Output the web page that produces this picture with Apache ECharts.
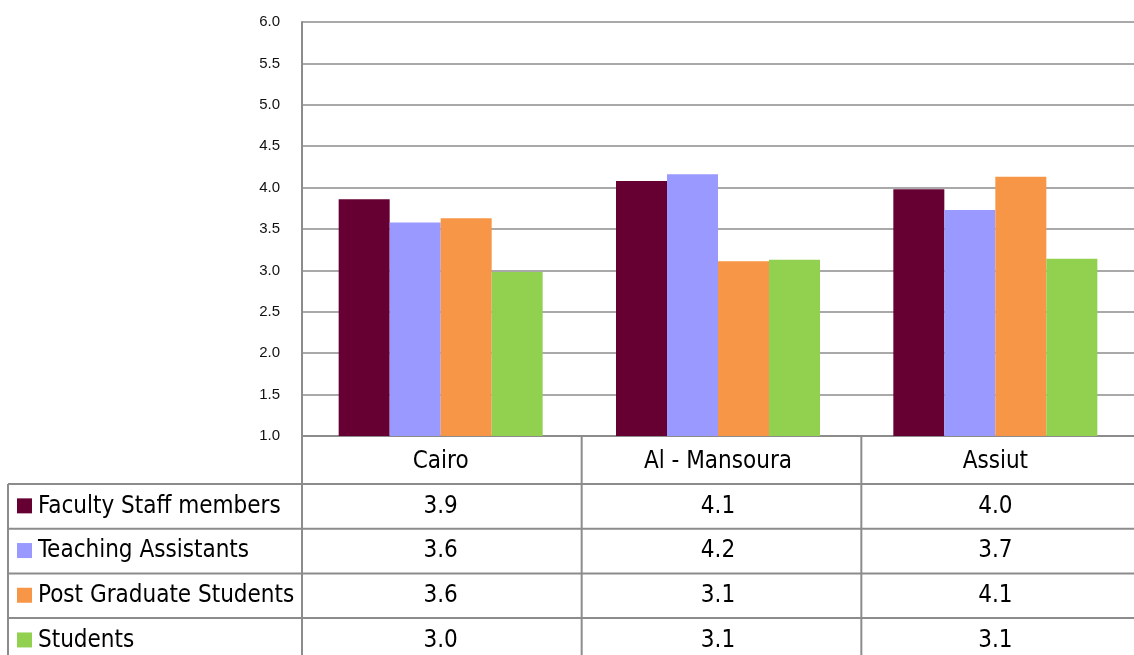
<!DOCTYPE html>
<html>
<head>
<meta charset="utf-8">
<script src="https://cdn.jsdelivr.net/npm/echarts@6/dist/echarts.min.js"></script>
<style>
  html, body { margin: 0; padding: 0; background: #fff; }
  #chart { width: 1134px; height: 655px; }
</style>
</head>
<body>
<div id="chart"></div>
<script>
// data
const cities = ['Cairo', 'Al - Mansoura', 'Assiut']
const groupNames = ['Faculty Staff members', 'Teaching Assistants', 'Post Graduate Students', 'Students']
const facultyStaff = [3.86, 4.08, 3.98]
const teachingAssistants = [3.58, 4.16, 3.73]
const postGraduates = [3.63, 3.11, 4.13]
const students = [2.98, 3.13, 3.14]
const yMin = 1
const yMax = 6
const yStep = 0.5

const groups = [facultyStaff, teachingAssistants, postGraduates, students]
const COLORS = ['#660033', '#9999FF', '#F79646', '#92D050']
const LINE = '#8c8c8c'
const TABLE_FONT = "'Liberation Sans Narrow', 'DejaVu Sans Condensed', sans-serif"
const AXIS_FONT = "'Liberation Sans', sans-serif"

// layout
const W = 1134
const GRID = { left: 302, right: -7, top: 22, bottom: 219 }
const AXIS_Y = 655 - GRID.bottom
const HEADER_H = 48
const ROW_H = 44.7
const TABLE_LEFT = 8

const chart = echarts.init(document.getElementById('chart'))

chart.setOption({
  animation: false,
  grid: GRID,
  xAxis: {
    type: 'category',
    data: cities,
    axisLine: { lineStyle: { color: LINE, width: 2 } },
    axisTick: { show: false },
    axisLabel: { fontFamily: TABLE_FONT, fontSize: 24, color: '#000', margin: 14 },
  },
  yAxis: {
    type: 'value',
    min: yMin,
    max: yMax,
    interval: yStep,
    axisLine: { show: true, lineStyle: { color: LINE, width: 2 } },
    axisTick: { show: false },
    axisLabel: {
      fontFamily: AXIS_FONT, fontSize: 15, color: '#111', margin: 22,
      formatter: v => v.toFixed(1),
    },
    splitLine: { lineStyle: { color: LINE, width: 1.5 } },
  },
  series: groups.map((vals, i) => ({
    name: groupNames[i],
    type: 'bar',
    data: vals,
    barWidth: 51,
    barGap: '0%',
    itemStyle: { color: COLORS[i] },
  })),
})

// data table under the axis
function buildTable() {
  const els = []
  const line = (x1, y1, x2, y2) => els.push({
    type: 'line', silent: true,
    shape: { x1, y1, x2, y2 },
    style: { stroke: LINE, lineWidth: 2 },
  })
  const rowTop = AXIS_Y + HEADER_H
  const nRows = groupNames.length
  const bottom = rowTop + nRows * ROW_H + 10

  // column borders (right edge falls outside the picture)
  const catW = (W - GRID.left - GRID.right) / cities.length
  for (let c = 0; c < cities.length; c++) {
    const x = GRID.left + c * catW
    line(x, AXIS_Y, x, bottom)
  }
  line(TABLE_LEFT, rowTop, TABLE_LEFT, bottom)

  // row borders + cells
  for (let r = 0; r < nRows; r++) {
    const y = rowTop + r * ROW_H
    line(TABLE_LEFT, y, W, y)
    const cy = y + ROW_H / 2
    els.push({
      type: 'rect', silent: true,
      shape: { x: TABLE_LEFT + 9, y: cy - 8, width: 15, height: 15 },
      style: { fill: COLORS[r] },
    })
    els.push({
      type: 'text', silent: true,
      x: TABLE_LEFT + 30, y: cy,
      style: {
        text: groupNames[r], fontFamily: TABLE_FONT, fontSize: 24, fill: '#000',
        align: 'left', verticalAlign: 'middle',
      },
    })
    groups[r].forEach((v, c) => {
      const px = chart.convertToPixel({ xAxisIndex: 0 }, c)
      els.push({
        type: 'text', silent: true,
        x: px, y: cy,
        style: {
          text: v.toFixed(1), fontFamily: TABLE_FONT, fontSize: 24, fill: '#000',
          align: 'center', verticalAlign: 'middle',
        },
      })
    })
  }
  return els
}

chart.setOption({ graphic: { elements: buildTable() } })
</script>
</body>
</html>
